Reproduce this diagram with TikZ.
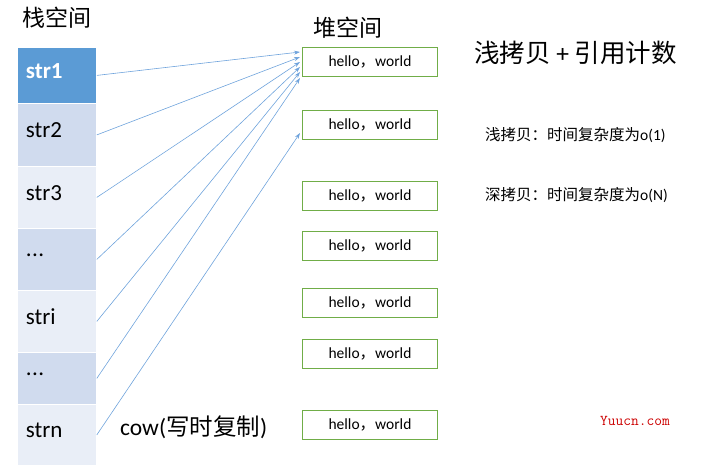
\documentclass[tikz,border=0pt]{standalone}
\usepackage{fontspec}
\setmainfont{Carlito}
\newfontfamily\cjk{Noto Sans CJK SC}
\usetikzlibrary{arrows.meta}
\definecolor{topblue}{HTML}{5B9BD5}
\definecolor{cellA}{HTML}{D0DBEE}
\definecolor{cellB}{HTML}{E9EEF7}
\definecolor{heapgreen}{HTML}{70AD47}
\definecolor{linkblue}{HTML}{6FA3DC}
\newcommand{\dotsmark}{.\kern0.5pt.\kern0.5pt.}

\begin{document}
\begin{tikzpicture}[x=1pt,y=-1pt]
    \tikzset{%
        cell/.style={draw=white, line width=0.8pt, minimum width=79pt, text width=62pt,
                align=left, inner sep=0pt, font=\fontsize{23}{23}\selectfont},
        heapbox/.style={draw=heapgreen, line width=0.7pt, minimum width=135pt, minimum height=29pt,
                inner sep=0pt, font=\fontsize{15.5}{15.5}\selectfont},
        link/.style={draw=linkblue, line width=0.6pt, -{Stealth[length=6pt,width=4pt]}},
        caption/.style={inner sep=0pt, anchor=west}
    }
    \useasboundingbox (0,0) rectangle (709,475);

    % stack cells: name/top/height/colour/label
    \foreach \name/\top/\h/\col/\lab in {s1/47/56/topblue/{\bfseries\color{white}str1},
            s2/103/63/cellA/str2, s3/166/62/cellB/str3, s4/228/62/cellA/{\dotsmark}, s5/290/62/cellB/stri,
            s6/352/52/cellA/{\dotsmark}, s7/404/61/cellB/strn} {%
            \node [cell, fill=\col, minimum height=\h pt, anchor=north west] (\name) at (17,\top) {\raisebox{9pt}{\lab}};
        }

    % heap boxes
    \foreach \name/\y in {h1/62, h2/125, h3/196, h4/246, h5/303, h6/354, h7/425} {%
            \node [heapbox] (\name) at (370,\y) {hello{\cjk ，}world};
        }

    % arrows
    \coordinate (t1) at (300,52);
    \coordinate (t2) at (300,57);
    \coordinate (t3) at (300,62);
    \coordinate (t4) at (300,67);
    \coordinate (t5) at (300,72);
    \coordinate (t6) at (300,78);
    \coordinate (t7) at (300,133);
    \foreach \i in {1,2,3,4,5,6,7} {%
            \draw [link] (s\i.east) -- (t\i);
        }

    % texts
    \node [caption] (stack) at (22,18) {\cjk\fontsize{23}{23}\selectfont 栈空间};
    \node [caption] (heap) at (313,28) {\cjk\fontsize{23}{23}\selectfont 堆空间};
    \node [caption] (title) at (474,53) {\fontsize{25.5}{25.5}\selectfont{\cjk 浅拷贝} + {\cjk 引用计数}};
    \node [caption] (shallow) at (485,135) {\fontsize{15.5}{15.5}\selectfont{\cjk 浅拷贝：时间复杂度为}o(1)};
    \node [caption] (deep) at (485,195) {\fontsize{15.5}{15.5}\selectfont{\cjk 深拷贝：时间复杂度为}o(N)};
    \node [caption] (cow) at (120,427) {\fontsize{23.5}{23.5}\selectfont cow({\cjk 写时复制})};
    \node [caption] (mark) at (600,421) {\color{red!80!black}\fontsize{15}{15}\selectfont\ttfamily Yuucn.com};
\end{tikzpicture}
\end{document}
